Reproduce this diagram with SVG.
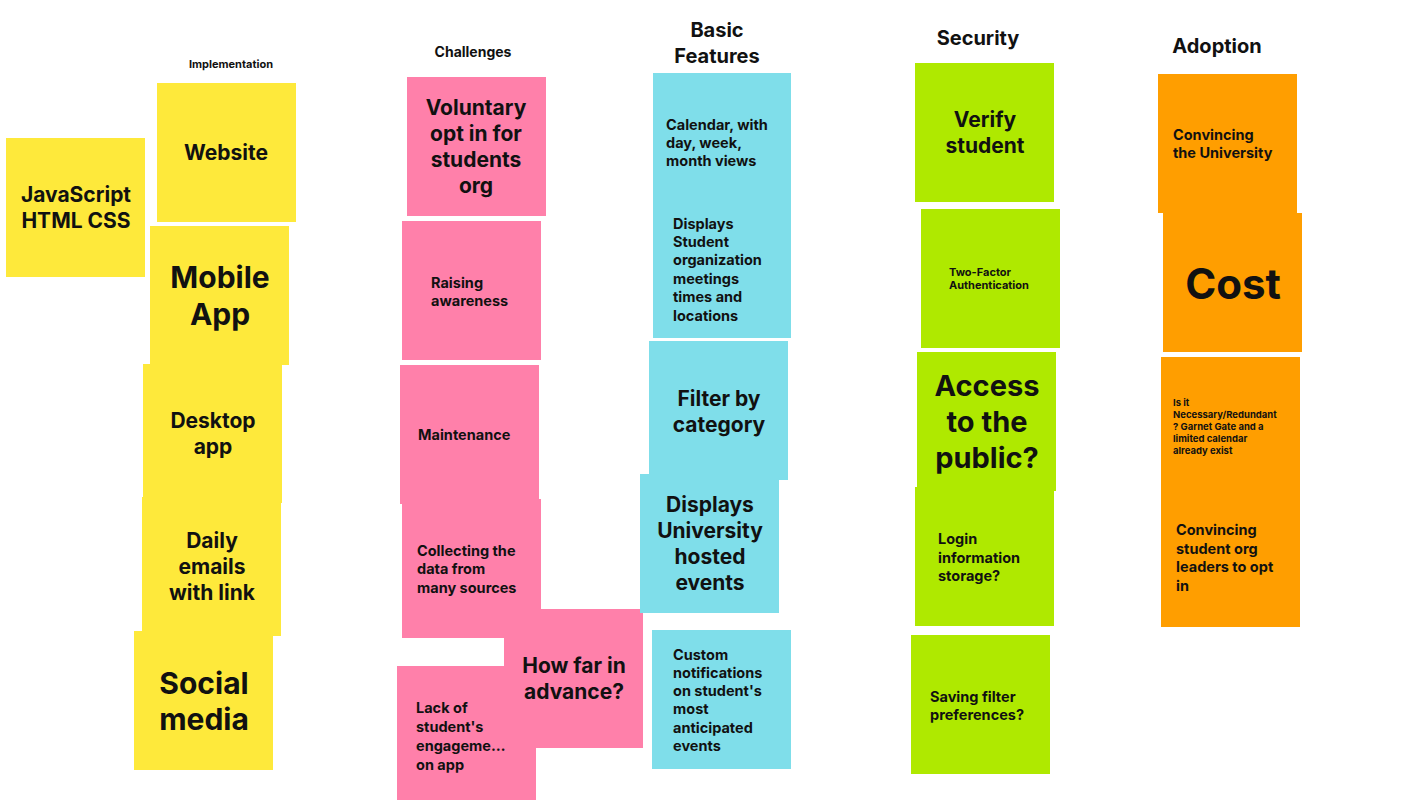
<svg xmlns="http://www.w3.org/2000/svg" width="1422" height="800" viewBox="0 0 1422 800">
<style>
text{font-family:Inter,"Liberation Sans",sans-serif;font-weight:700;fill:#111;dominant-baseline:central}
.c{text-anchor:middle}
.y{fill:#fee93b}.p{fill:#ff80aa}.b{fill:#7fdeea}.g{fill:#afe900}.o{fill:#ff9e00}
.s22{font-size:21px}.s15{font-size:14.5px}.s32{font-size:30px}.h{font-size:20px}
</style>
<rect width="1422" height="800" fill="#fff"/>
<g id="headers">
<text class="c" x="231" y="64" font-size="11">Implementation</text>
<text class="c" x="473" y="51" font-size="14">Challenges</text>
<text class="c h" x="717" y="30">Basic</text>
<text class="c h" x="717" y="56">Features</text>
<text class="c h" x="978" y="38">Security</text>
<text class="c h" x="1217" y="46">Adoption</text>
</g>
<g id="n-js"><rect class="y" x="6" y="138" width="139" height="139"/><text class="c s22" x="76" y="194">JavaScript</text><text class="c s22" x="76" y="220">HTML CSS</text></g>
<g id="n-website"><rect class="y" x="157" y="83" width="139" height="139"/><text class="c s22" x="226" y="152">Website</text></g>
<g id="n-mobile"><rect class="y" x="150" y="226" width="139" height="139"/><text class="c s32" x="220" y="277">Mobile</text><text class="c s32" x="220" y="314">App</text></g>
<g id="n-desktop"><rect class="y" x="143" y="364" width="139" height="139"/><text class="c s22" x="213" y="420">Desktop</text><text class="c s22" x="213" y="446">app</text></g>
<g id="n-daily"><rect class="y" x="142" y="497" width="139" height="139"/><text class="c s22" x="212" y="540">Daily</text><text class="c s22" x="212" y="566">emails</text><text class="c s22" x="212" y="592">with link</text></g>
<g id="n-social"><rect class="y" x="134" y="631" width="139" height="139"/><text class="c s32" x="204" y="683">Social</text><text class="c s32" x="204" y="719">media</text></g>

<g id="n-voluntary"><rect class="p" x="407" y="77" width="139" height="139"/><text class="c s22" x="476" y="107">Voluntary</text><text class="c s22" x="476" y="133">opt in for</text><text class="c s22" x="476" y="159">students</text><text class="c s22" x="476" y="185">org</text></g>
<g id="n-raising"><rect class="p" x="402" y="221" width="139" height="139"/><text class="s15" x="431" y="282">Raising</text><text class="s15" x="431" y="300">awareness</text></g>
<g id="n-maint"><rect class="p" x="400" y="365" width="139" height="139"/><text class="s15" x="418" y="434">Maintenance</text></g>
<g id="n-collect"><rect class="p" x="402" y="499" width="139" height="139"/><text class="s15" x="417" y="550">Collecting the</text><text class="s15" x="417" y="568">data from</text><text class="s15" x="417" y="587">many sources</text></g>
<g id="n-lack"><rect class="p" x="397" y="666" width="139" height="139"/><text class="s15" x="416" y="707">Lack of</text><text class="s15" x="416" y="726">student's</text><text class="s15" x="416" y="745">engageme…</text><text class="s15" x="416" y="764">on app</text></g>
<g id="n-howfar"><rect class="p" x="504" y="609" width="139" height="139"/><text class="c s22" x="574" y="665">How far in</text><text class="c s22" x="574" y="691">advance?</text></g>

<g id="n-calendar"><rect class="b" x="653" y="73" width="138" height="139"/><text class="s15" x="666" y="124">Calendar, with</text><text class="s15" x="666" y="142">day, week,</text><text class="s15" x="666" y="160">month views</text></g>
<g id="n-orgs"><rect class="b" x="653" y="199" width="138" height="139"/><text class="s15" x="673" y="223">Displays</text><text class="s15" x="673" y="241">Student</text><text class="s15" x="673" y="259">organization</text><text class="s15" x="673" y="278">meetings</text><text class="s15" x="673" y="296">times and</text><text class="s15" x="673" y="315">locations</text></g>
<g id="n-filter"><rect class="b" x="649" y="341" width="139" height="139"/><text class="c s22" x="719" y="398">Filter by</text><text class="c s22" x="719" y="424">category</text></g>
<g id="n-univ"><rect class="b" x="640" y="474" width="139" height="139"/><text class="c s22" x="710" y="504">Displays</text><text class="c s22" x="710" y="530">University</text><text class="c s22" x="710" y="556">hosted</text><text class="c s22" x="710" y="582">events</text></g>
<g id="n-custom"><rect class="b" x="652" y="630" width="139" height="139"/><text class="s15" x="673" y="654">Custom</text><text class="s15" x="673" y="672">notifications</text><text class="s15" x="673" y="690">on student's</text><text class="s15" x="673" y="708">most</text><text class="s15" x="673" y="727">anticipated</text><text class="s15" x="673" y="745">events</text></g>

<g id="n-verify"><rect class="g" x="915" y="63" width="139" height="139"/><text class="c s22" x="985" y="119">Verify</text><text class="c s22" x="985" y="145">student</text></g>
<g id="n-2fa"><rect class="g" x="921" y="209" width="139" height="139"/><text x="949" y="272" font-size="11">Two-Factor</text><text x="949" y="285" font-size="11">Authentication</text></g>
<g id="n-access"><rect class="g" x="917" y="352" width="139" height="139"/><text class="c" x="987" y="385" font-size="29">Access</text><text class="c" x="987" y="421" font-size="29">to the</text><text class="c" x="987" y="457" font-size="29">public?</text></g>
<g id="n-login"><rect class="g" x="915" y="487" width="139" height="139"/><text class="s15" x="938" y="538">Login</text><text class="s15" x="938" y="557">information</text><text class="s15" x="938" y="575">storage?</text></g>
<g id="n-saving"><rect class="g" x="911" y="635" width="139" height="139"/><text class="s15" x="930" y="696">Saving filter</text><text class="s15" x="930" y="714">preferences?</text></g>

<g id="n-convuni"><rect class="o" x="1158" y="74" width="139" height="139"/><text class="s15" x="1173" y="134">Convincing</text><text class="s15" x="1173" y="152">the University</text></g>
<g id="n-cost"><rect class="o" x="1163" y="213" width="139" height="139"/><text class="c" x="1233" y="283" font-size="42">Cost</text></g>
<g id="n-necessary"><rect class="o" x="1161" y="357" width="139" height="139"/><text x="1173" y="402" font-size="9.5">Is it</text><text x="1173" y="414" font-size="9.5">Necessary/Redundant</text><text x="1173" y="426" font-size="9.5">? Garnet Gate and a</text><text x="1173" y="438" font-size="9.5">limited calendar</text><text x="1173" y="450" font-size="9.5">already exist</text></g>
<g id="n-convorg"><rect class="o" x="1161" y="488" width="139" height="139"/><text class="s15" x="1176" y="529">Convincing</text><text class="s15" x="1176" y="548">student org</text><text class="s15" x="1176" y="566">leaders to opt</text><text class="s15" x="1176" y="585">in</text></g>
<g id="connectors"/>
</svg>
